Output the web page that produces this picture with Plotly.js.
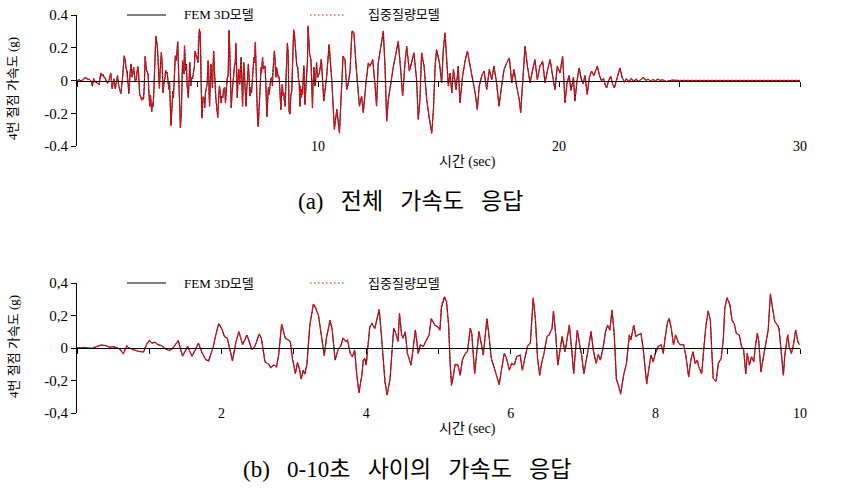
<!DOCTYPE html>
<html>
<head>
<meta charset="utf-8">
<script src="https://cdn.plot.ly/plotly-3.0.1.min.js"></script>
<style>html,body{margin:0;padding:0;background:#fff;}#chart{width:862px;height:488px;}</style>
</head>
<body>
<div id="chart"></div>
<script>
// ---------- DATA ----------
// time (sec) 0-10 s, shared by both panels
const timeB = [
  0, 0.1, 0.2, 0.27, 0.33, 0.4, 0.45, 0.5, 0.55, 0.6, 0.64, 0.69, 0.72, 0.78, 0.85, 0.92, 0.96,
  1.0, 1.04, 1.08, 1.12, 1.17, 1.22, 1.27, 1.32, 1.4, 1.46, 1.53, 1.59, 1.64, 1.68, 1.73, 1.78, 1.82, 1.88, 1.92, 1.96,
  2.0, 2.04, 2.08, 2.12, 2.15, 2.2, 2.24, 2.29, 2.35, 2.42, 2.46, 2.52, 2.55, 2.6, 2.65, 2.68, 2.72, 2.76, 2.79, 2.83, 2.88, 2.92, 2.95, 2.98,
  3.02, 3.05, 3.08, 3.1, 3.13, 3.15, 3.18, 3.2, 3.22, 3.27, 3.3, 3.34, 3.36, 3.38, 3.42, 3.45, 3.5, 3.53, 3.57, 3.61, 3.65, 3.68, 3.72, 3.74, 3.78, 3.81, 3.84, 3.87, 3.9, 3.94, 3.96, 3.98,
  4.0, 4.03, 4.05, 4.08, 4.12, 4.15, 4.18, 4.21, 4.24, 4.26, 4.29, 4.33, 4.35, 4.38, 4.41, 4.44, 4.46, 4.49, 4.51, 4.54, 4.57, 4.62, 4.65, 4.68, 4.72, 4.75, 4.79, 4.84, 4.87, 4.9, 4.95, 4.99,
  5.02, 5.04, 5.08, 5.11, 5.14, 5.16, 5.18, 5.21, 5.23, 5.27, 5.3, 5.33, 5.37, 5.4, 5.44, 5.46, 5.48, 5.5, 5.53, 5.56, 5.59, 5.62, 5.64, 5.67, 5.7, 5.73, 5.76, 5.8, 5.84, 5.87, 5.91, 5.94, 5.98,
  6.01, 6.05, 6.08, 6.13, 6.16, 6.2, 6.23, 6.27, 6.29, 6.31, 6.34, 6.37, 6.4, 6.43, 6.46, 6.5, 6.53, 6.57, 6.59, 6.62, 6.65, 6.68, 6.71, 6.75, 6.78, 6.81, 6.84, 6.87, 6.89, 6.92, 6.96, 6.98,
  7.01, 7.05, 7.07, 7.11, 7.14, 7.18, 7.21, 7.24, 7.28, 7.31, 7.34, 7.37, 7.4, 7.43, 7.46, 7.49, 7.52, 7.56, 7.6, 7.64, 7.66, 7.7, 7.73, 7.76, 7.8, 7.83, 7.86, 7.88, 7.91, 7.94, 7.97,
  8.0, 8.04, 8.08, 8.11, 8.13, 8.17, 8.19, 8.22, 8.25, 8.28, 8.32, 8.35, 8.39, 8.42, 8.46, 8.49, 8.52, 8.55, 8.58, 8.6, 8.64, 8.67, 8.7, 8.73, 8.76, 8.78, 8.8, 8.84, 8.87, 8.91, 8.94, 8.96, 8.99,
  9.03, 9.06, 9.09, 9.12, 9.16, 9.19, 9.22, 9.25, 9.27, 9.3, 9.33, 9.36, 9.38, 9.41, 9.43, 9.46, 9.49, 9.53, 9.56, 9.59, 9.62, 9.65, 9.69, 9.71, 9.74, 9.77, 9.79, 9.83, 9.85, 9.88, 9.91, 9.94, 9.97, 9.99
];
// FEM 3D model acceleration (g), 0-10 s
const femB = [
  0, 0.003, -0.003, 0.01, 0.018, 0.015, 0.005, 0.008, 0.003, -0.01, -0.035, 0.012, 0.0, -0.01, -0.02, -0.025, 0.02,
  0.045, 0.03, 0.035, 0.02, 0.015, -0.005, -0.015, -0.005, 0.045, -0.05, 0.01, -0.05, -0.01, 0.03, -0.03, -0.07, -0.08, 0.0, 0.08, 0.15,
  0.12, 0.07, 0.06, -0.02, -0.08, 0.04, 0.1, 0.02, 0.08, -0.01, 0.01, 0.085, 0.06, -0.085, -0.1, -0.12, -0.105, -0.115, -0.04, 0.146, 0.06, 0.05, 0.04, -0.064,
  -0.157, -0.089, -0.136, -0.19, -0.136, -0.16, -0.1, 0.02, 0.14, 0.27, 0.245, 0.2, 0.14, 0.07, -0.047, 0.06, 0.17, 0.11, -0.074, -0.012, 0.014, 0.06, 0.04, 0.05, -0.033, -0.054, -0.012, -0.167, -0.274, -0.167, -0.074, -0.064,
  -0.105, 0.04, 0.13, 0.15, 0.12, 0.18, 0.235, 0.08, -0.085, -0.21, -0.287, -0.19, -0.064, 0.12, 0.09, 0.04, 0.21, 0.08, 0.06, 0.1, -0.033, -0.105, 0.0, 0.11, -0.033, 0.02, 0.01, 0.05, 0.08, 0.18, 0.14, 0.13,
  0.11, 0.245, 0.307, 0.287, 0.14, -0.085, -0.229, -0.157, -0.1, -0.105, -0.167, -0.074, -0.033, -0.023, 0.12, 0.09, -0.074, -0.157, -0.023, 0.1, 0.03, -0.043, 0.05, 0.18, 0.07, -0.064, -0.105, -0.167, -0.225, -0.136, -0.033, -0.064, -0.136,
  -0.095, -0.105, -0.054, -0.043, -0.136, -0.043, 0.01, 0.03, 0.18, 0.303, 0.18, -0.064, -0.167, -0.085, -0.033, 0.07, 0.08, 0.12, 0.225, 0.09, -0.105, 0.0, 0.07, -0.023, 0.06, 0.14, 0.0, -0.157, -0.04, 0.11, 0.0, -0.043,
  -0.157, -0.04, -0.01, 0.1, -0.01, -0.095, -0.04, -0.074, 0.01, 0.1, 0.14, 0.11, 0.23, 0.09, -0.19, -0.23, -0.28, -0.167, -0.095, 0.08, 0.05, 0.14, 0.07, 0.08, 0.09, 0.0, -0.115, -0.219, -0.126, -0.043, -0.085,
  -0.033, 0.01, 0.02, -0.033, 0.05, 0.163, 0.18, 0.12, 0.02, 0.08, 0.03, 0.02, 0.02, -0.043, -0.177, -0.074, -0.023, -0.095, -0.074, -0.115, -0.157, 0.0, 0.14, 0.225, 0.17, -0.02, -0.186, -0.204, -0.095, -0.064, 0.06, 0.245, 0.307,
  0.266, 0.17, 0.15, 0.09, 0.08, 0.01, -0.01, -0.157, -0.033, -0.105, -0.054, -0.085, 0.0, 0.09, 0.04, -0.146, -0.064, 0.05, 0.11, 0.328, 0.245, 0.163, 0.14, 0.12, -0.02, -0.167, -0.043, 0.08, 0.01, -0.033, 0.02, 0.11, 0.04, 0.02
];
// Lumped mass model acceleration (g), 0-10 s
const lumpB = [
  0, 0.004, -0.002, 0.01, 0.017, 0.015, 0.006, 0.008, 0.002, -0.01, -0.034, 0.013, 0.0, -0.011, -0.02, -0.024, 0.021,
  0.046, 0.03, 0.036, 0.021, 0.014, -0.004, -0.016, -0.004, 0.046, -0.05, 0.011, -0.05, -0.01, 0.031, -0.03, -0.071, -0.08, 0.001, 0.08, 0.152,
  0.12, 0.072, 0.06, -0.02, -0.08, 0.04, 0.102, 0.02, 0.08, -0.01, 0.01, 0.087, 0.06, -0.086, -0.1, -0.122, -0.105, -0.116, -0.04, 0.148, 0.062, 0.05, 0.04, -0.065,
  -0.158, -0.09, -0.137, -0.192, -0.136, -0.162, -0.1, 0.02, 0.142, 0.272, 0.25, 0.2, 0.142, 0.07, -0.048, 0.062, 0.172, 0.11, -0.075, -0.012, 0.015, 0.062, 0.04, 0.052, -0.034, -0.054, -0.012, -0.168, -0.276, -0.168, -0.075, -0.064,
  -0.106, 0.04, 0.132, 0.152, 0.12, 0.182, 0.24, 0.08, -0.086, -0.212, -0.29, -0.19, -0.064, 0.122, 0.09, 0.04, 0.215, 0.08, 0.062, 0.1, -0.034, -0.106, 0.0, 0.112, -0.034, 0.02, 0.012, 0.052, 0.082, 0.182, 0.14, 0.13,
  0.11, 0.26, 0.316, 0.295, 0.14, -0.086, -0.232, -0.158, -0.1, -0.106, -0.168, -0.074, -0.034, -0.023, 0.122, 0.09, -0.075, -0.158, -0.023, 0.102, 0.03, -0.044, 0.05, 0.182, 0.07, -0.065, -0.106, -0.168, -0.227, -0.136, -0.033, -0.064, -0.138,
  -0.095, -0.106, -0.054, -0.043, -0.138, -0.043, 0.01, 0.03, 0.182, 0.31, 0.182, -0.065, -0.168, -0.085, -0.033, 0.072, 0.08, 0.122, 0.23, 0.09, -0.106, 0.0, 0.072, -0.023, 0.062, 0.142, 0.0, -0.158, -0.04, 0.112, 0.0, -0.044,
  -0.158, -0.04, -0.01, 0.102, -0.01, -0.096, -0.04, -0.075, 0.01, 0.1, 0.142, 0.11, 0.235, 0.09, -0.192, -0.232, -0.285, -0.168, -0.095, 0.082, 0.05, 0.142, 0.07, 0.082, 0.09, 0.0, -0.116, -0.222, -0.126, -0.043, -0.086,
  -0.033, 0.01, 0.02, -0.034, 0.05, 0.165, 0.182, 0.12, 0.02, 0.082, 0.03, 0.02, 0.02, -0.044, -0.18, -0.074, -0.023, -0.096, -0.074, -0.116, -0.16, 0.0, 0.142, 0.23, 0.172, -0.02, -0.188, -0.206, -0.095, -0.064, 0.062, 0.25, 0.312,
  0.27, 0.172, 0.15, 0.09, 0.08, 0.01, -0.01, -0.16, -0.033, -0.106, -0.054, -0.086, 0.0, 0.092, 0.04, -0.148, -0.064, 0.05, 0.112, 0.335, 0.25, 0.165, 0.14, 0.122, -0.02, -0.17, -0.043, 0.082, 0.01, -0.034, 0.02, 0.112, 0.04, 0.02
];
// time (sec) 10-30 s (full-record panel only)
const timeA = [
  10.06, 10.14, 10.24, 10.36, 10.46, 10.57, 10.68, 10.78, 10.89, 10.97, 11.04, 11.12, 11.19, 11.26, 11.33, 11.41, 11.49, 11.58, 11.63, 11.72, 11.81, 11.88, 11.99,
  12.09, 12.16, 12.27, 12.37, 12.43, 12.5, 12.6, 12.71, 12.78, 12.85, 12.92, 13.03, 13.13, 13.24, 13.33, 13.43, 13.51, 13.61, 13.68, 13.79, 13.89, 13.98,
  14.09, 14.16, 14.23, 14.3, 14.4, 14.51, 14.62, 14.72, 14.79, 14.86, 14.92, 15.04, 15.13, 15.2, 15.27, 15.34, 15.41, 15.48, 15.55, 15.62, 15.73, 15.82, 15.89,
  16.0, 16.1, 16.2, 16.31, 16.42, 16.52, 16.61, 16.69, 16.79, 16.89, 17.0, 17.11, 17.21, 17.3, 17.41, 17.51, 17.62, 17.72, 17.83, 17.94,
  18.04, 18.13, 18.24, 18.35, 18.41, 18.49, 18.59, 18.69, 18.8, 18.91, 19.0, 19.1, 19.21, 19.32, 19.42, 19.53, 19.63, 19.74, 19.83, 19.93,
  20.04, 20.15, 20.25, 20.33, 20.42, 20.5, 20.6, 20.66, 20.75, 20.84, 20.92, 21.0, 21.08, 21.17, 21.26, 21.35, 21.45, 21.52, 21.59, 21.68, 21.76, 21.85, 21.92, 21.98,
  22.06, 22.15, 22.22, 22.3, 22.4, 22.53, 22.62, 22.72, 22.8, 22.9, 23.0, 23.1, 23.2, 23.3, 23.4, 23.5, 23.6, 23.7, 23.8, 23.9, 24.0, 24.1, 24.2, 24.3, 24.45, 24.6, 24.7, 25, 30
];
const femA = [
  0.046, 0.13, -0.125, 0.026, 0.218, 0.006, -0.297, -0.176, -0.317, -0.014, 0.147, 0.127, -0.055, -0.014, 0.057, 0.299, 0.289, 0.087, -0.014, -0.156, -0.095, -0.196, -0.014,
  0.107, 0.087, 0.127, -0.034, -0.156, 0.107, 0.208, 0.299, 0.087, -0.246, -0.115, 0.006, 0.087, 0.168, 0.238, 0.067, -0.095, 0.107, 0.208, 0.057, 0.107, 0.168,
  0.006, -0.236, -0.115, 0.168, 0.087, -0.115, -0.236, -0.317, -0.176, 0.087, 0.188, 0.107, -0.014, 0.188, 0.289, 0.147, -0.034, 0.046, -0.075, 0.067, -0.055, 0.087, -0.135,
  0.026, 0.117, 0.178, 0.087, 0.006, -0.075, -0.176, -0.034, 0.026, 0.057, -0.055, 0.067, 0.006, 0.087, -0.014, -0.156, -0.034, 0.067, 0.107, 0.137,
  -0.014, 0.067, -0.034, -0.115, -0.196, -0.034, 0.208, 0.087, -0.014, 0.067, 0.127, 0.006, 0.087, 0.117, -0.014, 0.067, 0.127, 0.026, -0.055, 0.087,
  0.046, 0.147, -0.135, -0.02, 0.03, -0.06, 0.02, -0.125, 0.0, 0.077, 0.01, -0.02, 0.03, -0.085, 0.02, 0.057, 0.03, 0.06, 0.087, 0.03, 0.0, 0.01, -0.03, -0.044,
  0.0, 0.026, -0.02, -0.044, 0.01, 0.077, 0.02, -0.01, 0.01, -0.008, 0.012, -0.005, 0.008, -0.006, 0.005, 0.02, 0.0, 0.008, -0.004, 0.006, -0.003, 0.008, 0.0, 0.004, -0.006, 0.0, 0.002, 0, 0
];
const lumpA = [
  0.047, 0.132, -0.127, 0.026, 0.222, 0.006, -0.3, -0.178, -0.322, -0.014, 0.15, 0.128, -0.056, -0.014, 0.058, 0.305, 0.292, 0.088, -0.014, -0.158, -0.096, -0.198, -0.014,
  0.108, 0.088, 0.128, -0.034, -0.158, 0.108, 0.21, 0.304, 0.088, -0.25, -0.116, 0.006, 0.088, 0.17, 0.242, 0.068, -0.096, 0.108, 0.21, 0.058, 0.108, 0.17,
  0.006, -0.24, -0.116, 0.17, 0.088, -0.116, -0.24, -0.325, -0.178, 0.088, 0.19, 0.108, -0.014, 0.19, 0.294, 0.148, -0.034, 0.046, -0.076, 0.068, -0.056, 0.088, -0.137,
  0.026, 0.118, 0.18, 0.088, 0.006, -0.076, -0.178, -0.034, 0.026, 0.058, -0.056, 0.068, 0.006, 0.088, -0.014, -0.158, -0.034, 0.068, 0.108, 0.139,
  -0.014, 0.068, -0.034, -0.116, -0.198, -0.034, 0.21, 0.088, -0.014, 0.068, 0.128, 0.006, 0.088, 0.118, -0.014, 0.068, 0.128, 0.026, -0.056, 0.088,
  0.046, 0.148, -0.137, -0.02, 0.03, -0.061, 0.02, -0.127, 0.0, 0.078, 0.01, -0.02, 0.03, -0.086, 0.02, 0.058, 0.03, 0.06, 0.088, 0.03, 0.0, 0.01, -0.03, -0.045,
  0.0, 0.026, -0.02, -0.045, 0.01, 0.078, 0.02, -0.01, 0.01, -0.008, 0.012, -0.005, 0.008, -0.006, 0.005, 0.02, 0.0, 0.008, -0.004, 0.006, -0.003, 0.008, 0.0, 0.004, -0.006, 0.0, 0.002, 0, 0
];
// tick labels
const yTickVals = [-0.4, -0.2, 0, 0.2, 0.4];
const yTickTextA = ['-0.4', '-0.2', '0', '0.2', '0.4'];
const yTickTextB = ['-0,4', '-0,2', '0', '0,2', '0,4'];
const xTickValsA = [10, 20, 30];
const xTickValsB = [2, 4, 6, 8, 10];
const seriesNames = ['FEM 3D모델', '집중질량모델'];
const yTitle = '4번 절점 가속도 (g)';
const xTitle = '시간 (sec)';
const captionA = '(a)\u00a0\u00a0\u00a0전체\u00a0\u00a0\u00a0가속도\u00a0\u00a0\u00a0응답';
const captionB = '(b)\u00a0\u00a0\u00a00-10초\u00a0\u00a0\u00a0사이의\u00a0\u00a0\u00a0가속도\u00a0\u00a0\u00a0응답';

// ---------- LAYOUT HELPERS ----------
const W = 862, H = 488;
const px = v => v / W;
const py = v => 1 - v / H;
const FONT = "'Liberation Serif', 'Noto Sans CJK KR', serif";
const RED = '#e8101c';
const RED_DASH = '3px,1px';
const xDom = [px(77), px(800)];
const yDomA = [py(146), py(15)];
const yDomB = [py(413), py(283)];

const fullT = timeB.concat(timeA);
const traces = [
  {x: fullT, y: femB.concat(femA), xaxis: 'x', yaxis: 'y', type: 'scatter', mode: 'lines',
   line: {color: '#000', width: 1}, name: seriesNames[0]},
  {x: fullT, y: lumpB.concat(lumpA), xaxis: 'x3', yaxis: 'y', type: 'scatter', mode: 'lines',
   line: {color: RED, width: 1.3, dash: RED_DASH}, name: seriesNames[1]},
  {x: timeB, y: femB, xaxis: 'x2', yaxis: 'y2', type: 'scatter', mode: 'lines',
   line: {color: '#000', width: 1}, name: seriesNames[0]},
  {x: timeB, y: lumpB, xaxis: 'x4', yaxis: 'y2', type: 'scatter', mode: 'lines',
   line: {color: RED, width: 1.3, dash: RED_DASH}, name: seriesNames[1]}
];

const lineAxis = (range, dtick, pos) => ({
  domain: xDom, range: range, anchor: 'free', position: pos,
  showline: true, linecolor: '#000', linewidth: 1,
  ticks: 'outside', ticklen: 5, tickwidth: 1, tickcolor: '#000', dtick: dtick, tick0: 0,
  showticklabels: false, showgrid: false, zeroline: false
});
const labelAxis = (range, vals, over, pos) => ({
  domain: xDom, range: range, anchor: 'free', position: pos, overlaying: over,
  showline: false, ticks: '', tickvals: vals, ticktext: vals.map(String),
  tickfont: {family: FONT, size: 14, color: '#000'},
  showgrid: false, zeroline: false
});
const yAxis = (dom, anchor, texts) => ({
  domain: dom, range: [-0.4, 0.4], anchor: anchor,
  showline: true, linecolor: '#000', linewidth: 1,
  ticks: 'outside', ticklen: 5, tickwidth: 1, tickcolor: '#000',
  tickvals: yTickVals, ticktext: texts,
  tickfont: {family: FONT, size: 15, color: '#000'},
  showgrid: false, zeroline: false
});

const ann = (text, x, y, opts) => Object.assign({
  text: text, xref: 'paper', yref: 'paper', x: px(x), y: py(y), showarrow: false,
  xanchor: 'center', yanchor: 'middle', font: {family: FONT, size: 13, color: '#000'}
}, opts || {});

const layout = {
  width: W, height: H, margin: {l: 0, r: 0, t: 0, b: 0},
  paper_bgcolor: '#fff', plot_bgcolor: 'rgba(0,0,0,0)', showlegend: false,
  xaxis: lineAxis([0, 30], 5, (yDomA[0] + yDomA[1]) / 2),
  xaxis3: labelAxis([0, 30], xTickValsA, 'x', py(136)),
  yaxis: yAxis(yDomA, 'x', yTickTextA),
  xaxis2: lineAxis([0, 10], 1, (yDomB[0] + yDomB[1]) / 2),
  xaxis4: labelAxis([0, 10], xTickValsB, 'x2', py(403)),
  yaxis2: yAxis(yDomB, 'x2', yTickTextB),
  shapes: [
    {type: 'line', xref: 'paper', yref: 'paper', x0: px(127), x1: px(166), y0: py(15), y1: py(15), line: {color: '#000', width: 1}},
    {type: 'line', xref: 'paper', yref: 'paper', x0: px(310), x1: px(345), y0: py(15), y1: py(15), line: {color: RED, width: 1.2, dash: '1.5px,2.5px'}},
    {type: 'line', xref: 'paper', yref: 'paper', x0: px(127), x1: px(166), y0: py(283), y1: py(283), line: {color: '#000', width: 1}},
    {type: 'line', xref: 'paper', yref: 'paper', x0: px(310), x1: px(345), y0: py(283), y1: py(283), line: {color: RED, width: 1.2, dash: '1.5px,2.5px'}}
  ],
  annotations: [
    ann(seriesNames[0], 182, 15, {xanchor: 'left'}),
    ann(seriesNames[1], 366, 15, {xanchor: 'left'}),
    ann(seriesNames[0], 182, 283, {xanchor: 'left'}),
    ann(seriesNames[1], 366, 283, {xanchor: 'left'}),
    ann(yTitle, 13, 89, {textangle: -90}),
    ann(yTitle, 13, 347, {textangle: -90}),
    ann(xTitle, 467, 162, {font: {family: FONT, size: 14, color: '#000'}}),
    ann(xTitle, 467, 429, {font: {family: FONT, size: 14, color: '#000'}}),
    ann(captionA, 410, 202, {font: {family: FONT, size: 23, color: '#000'}}),
    ann(captionB, 407, 469, {font: {family: FONT, size: 23, color: '#000'}})
  ]
};

Plotly.newPlot('chart', traces, layout, {displayModeBar: false, staticPlot: true});
</script>
</body>
</html>
